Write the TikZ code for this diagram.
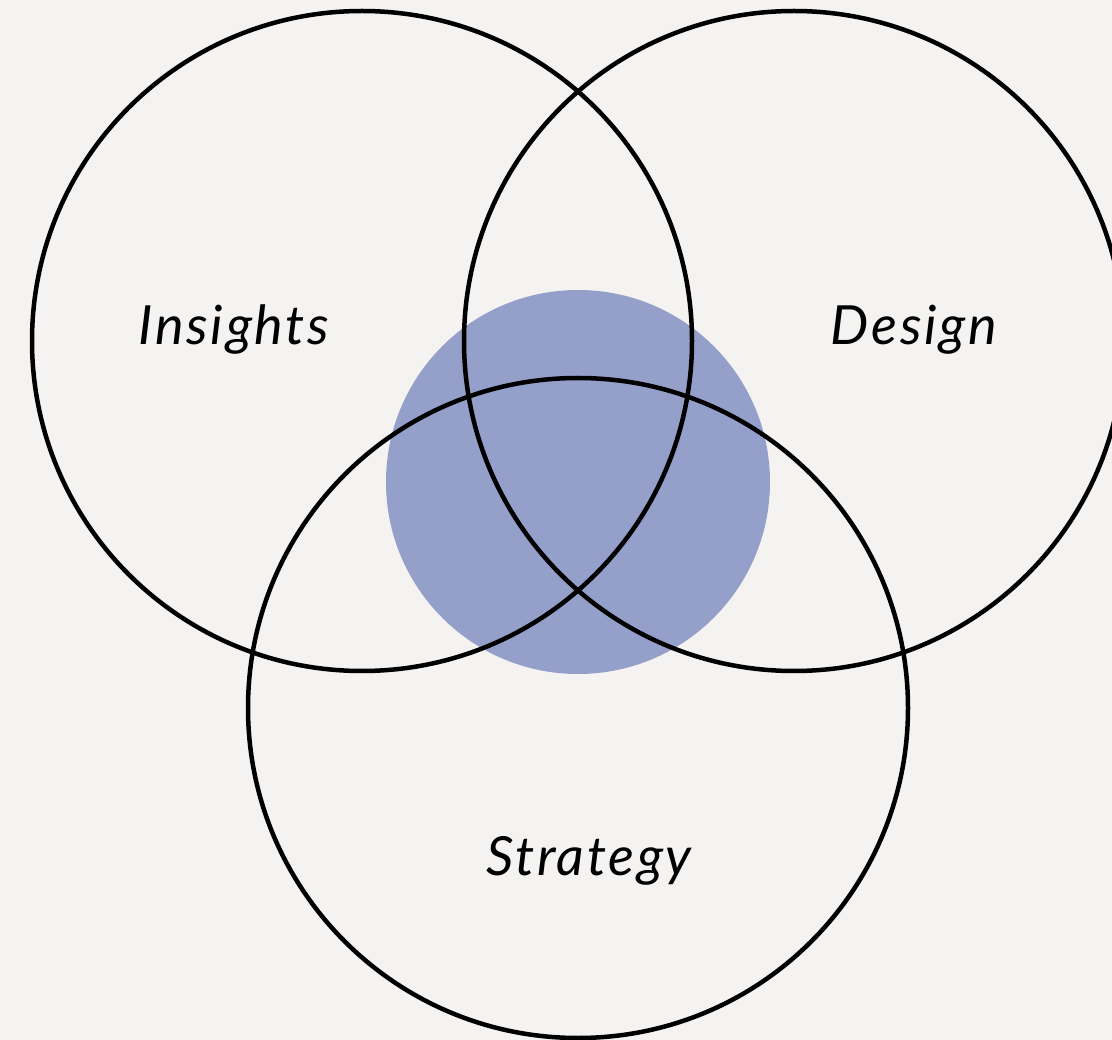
\documentclass[tikz,border=0pt]{standalone}
\usepackage{fontspec}
\setmainfont{Lato}
\usepackage{tikz}
\usetikzlibrary{positioning}
\definecolor{bgpaper}{HTML}{F4F3F1}
\definecolor{corefill}{HTML}{949FCA}
\def\VennRadius{330}
\def\CoreRadius{192}

\begin{document}
\begin{tikzpicture}[x=1pt,y=-1pt,
		venn/.style={draw=black,line width=4.5pt},
		label/.style={font=\fontsize{54}{64}\selectfont\itshape\addfontfeature{LetterSpace=5}}]
	\fill[bgpaper] (0,0) rectangle (1112,1040);
	\useasboundingbox (0,0) rectangle (1112,1040);
	% centres
	\coordinate (ins) at (362,341);
	\coordinate (des) at (794,341);
	\coordinate (str) at (578,708);
	\coordinate (core) at (578,482);
	% 
	\fill[corefill] (core) circle (\CoreRadius);
	\draw[venn] (ins) circle (\VennRadius);
	\draw[venn] (des) circle (\VennRadius);
	\draw[venn] (str) circle (\VennRadius);
	% 
	\node[label,anchor=base] (insl) at (234,345) {Insights};
	\node[label,anchor=base] (desl) at (914,345) {Design};
	\node[label,anchor=base] (strl) at (589,875) {Strategy};
\end{tikzpicture}
\end{document}
